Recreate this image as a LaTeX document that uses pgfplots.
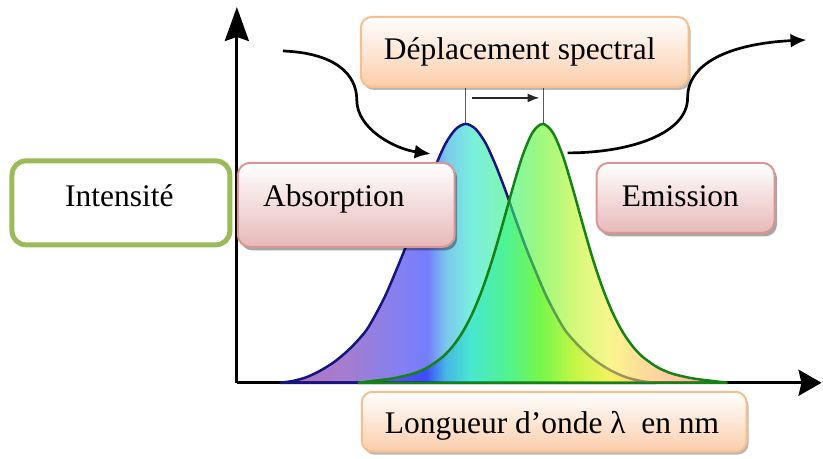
\documentclass[border=0pt]{standalone}
\usepackage{fontspec}
\setmainfont{Liberation Serif}
\usepackage{pgfplots}
\pgfplotsset{compat=1.18}
\usetikzlibrary{arrows.meta,shadows}

\definecolor{cA}{RGB}{120,30,160}
\definecolor{cB}{RGB}{110,45,175}
\definecolor{cC}{RGB}{55,50,235}
\definecolor{cD}{RGB}{30,45,250}
\definecolor{cE}{RGB}{40,170,225}
\definecolor{cF}{RGB}{40,228,200}
\definecolor{cG}{RGB}{50,240,130}
\definecolor{cH}{RGB}{95,245,45}
\definecolor{cI}{RGB}{185,245,40}
\definecolor{cJ}{RGB}{245,240,70}
\definecolor{cK}{RGB}{255,190,100}
\definecolor{cL}{RGB}{255,145,115}
\definecolor{absLine}{RGB}{20,20,130}
\definecolor{emiLine}{RGB}{20,130,20}
\definecolor{peachD}{RGB}{248,190,140}
\definecolor{peachB}{RGB}{251,205,170}
\definecolor{pinkD}{RGB}{217,150,148}
\definecolor{pinkB}{RGB}{230,185,184}
\definecolor{greenD}{RGB}{155,187,89}

\pgfdeclarehorizontalshading{absShade}{100bp}{color(0bp)=(cA); color(25.5bp)=(cA); color(33.4bp)=(cB); color(41.3bp)=(cC); color(44.6bp)=(cD); color(47.2bp)=(cE); color(50.5bp)=(cF); color(55.1bp)=(cG); color(59.7bp)=(cH); color(64.3bp)=(cI); color(69bp)=(cJ); color(74.2bp)=(cK); color(100bp)=(cK)}
\pgfdeclarehorizontalshading{emiShade}{100bp}{color(0bp)=(cB); color(25.3bp)=(cB); color(30.7bp)=(cC); color(34.1bp)=(cD); color(36.8bp)=(cE); color(40.1bp)=(cF); color(44.9bp)=(cG); color(49.6bp)=(cH); color(54.3bp)=(cI); color(59.1bp)=(cJ); color(64.5bp)=(cK); color(71.2bp)=(cL); color(100bp)=(cL)}

\tikzset{
  txt/.style={font=\fontsize{31.6}{36}\selectfont, inner sep=0pt, anchor=base west},
  peachbox/.style={draw=peachD, line width=2bp, rounded corners=11bp, top color=white, bottom color=peachB,
    drop shadow={shadow xshift=2bp, shadow yshift=-3bp, fill=black, opacity=0.28}},
  pinkbox/.style={draw=pinkD, line width=2bp, rounded corners=12bp, top color=white, bottom color=pinkB,
    drop shadow={shadow xshift=2.5bp, shadow yshift=-3.5bp, fill=black, opacity=0.35}},
}

\begin{document}
\begin{tikzpicture}
\begin{axis}[
  x=1bp, y=1bp,
  xmin=237, xmax=822, ymin=76, ymax=452,
  axis lines=left,
  axis line style={line width=3bp},
  x axis line style={-{Stealth[length=23bp,width=26bp,inset=3bp]}},
  y axis line style={-{Stealth[length=34bp,width=24bp,inset=4bp]}},
  ticks=none,
  clip=false,
]
\path (axis cs:0,0) rectangle (axis cs:823,459);

% Absorption
\addplot[smooth, draw=absLine, line width=2.5bp, shading=absShade, fill opacity=0.62, draw opacity=1]
coordinates {(280,76) (293,77.8) (307,81.7) (321,88.4) (336,98.0) (351,111.0) (366,127.8) (376,144.6) (386,164.1) (396,187.4) (406,212.0) (416,239.2) (426,267.7) (436,293.6) (446,315.6) (456,329.8) (466,335) (476,329.8) (486,315.6) (496,293.6) (506,267.7) (516,239.2) (526,212.0) (536,187.4) (546,164.1) (556,144.6) (566,127.8) (581,111.0) (596,98.0) (611,88.4) (626,81.7) (641,77.8) (656,76)} -- cycle;

% Emission
\addplot[smooth, draw=emiLine, line width=2.5bp, shading=emiShade, fill opacity=0.62, draw opacity=1]
coordinates {(358,76) (373,77.8) (393,80.4) (413,85.0) (428,91.4) (443,102.0) (453,112.5) (463,126.9) (473,146.1) (483,170.6) (493,200.5) (503,234.9) (513,270.8) (523,303.6) (533,326.6) (543,335) (553,326.6) (563,303.6) (573,270.8) (583,234.9) (593,200.5) (603,170.6) (613,146.1) (623,126.9) (633,112.5) (643,102.0) (658,91.4) (673,85.0) (693,80.4) (713,77.8) (728,76)} -- cycle;

% spectral shift marker
\draw[line width=1.5bp, black!65] (axis cs:466,336) -- (axis cs:466,372);
\draw[line width=1.5bp, black!65] (axis cs:544,336) -- (axis cs:544,372);
\draw[line width=2bp, black!85, -{Latex[length=12bp,width=9bp]}] (axis cs:472,361) -- (axis cs:540,361);

% curved arrows
\draw[line width=2.7bp, -{Latex[length=16bp,width=14bp]}] (axis cs:283,408) .. controls (axis cs:335,406) and (axis cs:357,385) .. (axis cs:357,359) .. controls (axis cs:357,330) and (axis cs:395,310) .. (axis cs:431,305);
\draw[line width=2.7bp, -{Latex[length=16bp,width=14bp]}] (axis cs:568,306) .. controls (axis cs:630,306) and (axis cs:688,325) .. (axis cs:688,361) .. controls (axis cs:688,400) and (axis cs:740,416) .. (axis cs:807,419);

% boxes
\draw[peachbox] (axis cs:361,442) rectangle (axis cs:689,372);
\node[txt] at (axis cs:384,399) {Déplacement spectral};

\draw[peachbox] (axis cs:362,67) rectangle (axis cs:747,7);
\node[txt] at (axis cs:385,25) {Longueur d’onde λ~ en nm};

\draw[pinkbox] (axis cs:238,296) rectangle (axis cs:455,212);
\node[txt] at (axis cs:263,252) {Absorption};

\draw[pinkbox] (axis cs:597,296) rectangle (axis cs:775,226);
\node[txt] at (axis cs:622,252) {Emission};

\draw[draw=greenD, line width=5bp, rounded corners=14bp, fill=white] (axis cs:12,298) rectangle (axis cs:230,214);
\node[txt] at (axis cs:65,252) {Intensité};
\end{axis}
\end{tikzpicture}
\end{document}
